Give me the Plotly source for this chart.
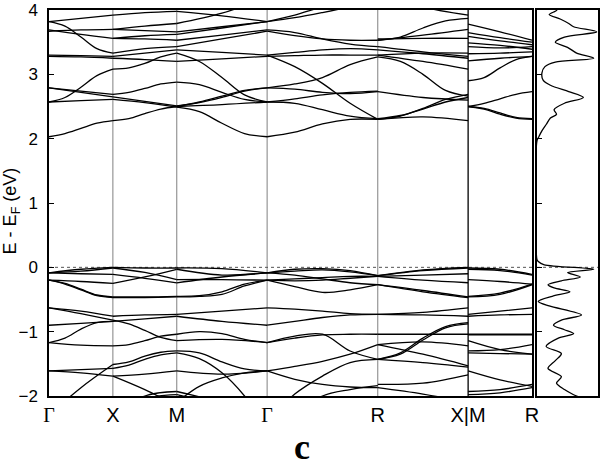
import plotly.graph_objects as go

# ---- k-path node positions (simple cubic: G-X-M-G-R-X | M-R) ----
k_G1 = 0.0
k_X1 = 1.0
k_M1 = 2.0
k_G2 = 2.0 + 2 ** 0.5
k_R1 = k_G2 + 3 ** 0.5
k_X2 = k_R1 + 2 ** 0.5
k_R2 = k_X2 + 1.0

tick_labels = ["<span style='font-family:Liberation Serif'>Γ</span>", "X", "M",
               "<span style='font-family:Liberation Serif'>Γ</span>", "R", "X|M", "R"]


def seg_k(a, b, n):
    return [a + (b - a) * i / (n - 1) for i in range(n)]


# segments: (start, end)
seg_GX = (k_G1, k_X1)
seg_XM = (k_X1, k_M1)
seg_MG = (k_M1, k_G2)
seg_GR = (k_G2, k_R1)
seg_RX = (k_R1, k_X2)
seg_MR = (k_X2, k_R2)

cb_GX = [[2.03, 2.08, 2.16, 2.24, 2.28], [2.57, 2.64, 2.80, 2.98, 3.08], [2.57, 2.59, 2.61],
         [2.79, 2.72, 2.65], [2.79, 2.74, 2.69], [3.28, 3.27, 3.25], [3.30, 3.29, 3.28],
         [3.82, 3.75, 3.58, 3.40, 3.33], [3.67, 3.69, 3.70], [3.69, 3.62, 3.56],
         [3.82, 3.87, 3.92]]
vb_GX = [[-0.085, -0.03, 0.00], [-0.085, -0.06, -0.01], [-0.085, -0.10, -0.11],
         [-0.20, -0.22, -0.25], [-0.20, -0.25, -0.34, -0.43, -0.46],
         [-0.20, -0.26, -0.35, -0.44, -0.47], [-0.63, -0.68, -0.76], [-0.63, -0.72, -0.82],
         [-0.90, -0.87, -0.84], [-1.17, -1.10, -0.96, -0.86, -0.84], [-1.17, -1.21, -1.22],
         [-1.61, -1.59, -1.57], [-1.61, -1.64, -1.69], [-2.30, -1.87, -1.51]]

cb_XM = [[2.28, 2.31, 2.39, 2.46, 2.50], [2.61, 2.56, 2.49], [2.65, 2.58, 2.51],
         [2.69, 2.72, 2.78, 2.85, 2.88], [3.08, 3.10, 3.17, 3.27, 3.33], [3.25, 3.23, 3.20],
         [3.28, 3.33, 3.38], [3.33, 3.40, 3.43], [3.56, 3.55, 3.53], [3.56, 3.60, 3.62],
         [3.70, 3.68, 3.66], [3.70, 3.75, 3.79], [3.92, 3.96, 3.98]]
vb_XM = [[0.00, -0.01, -0.01], [-0.01, -0.08, -0.19], [-0.11, -0.17, -0.24],
         [-0.25, -0.15, -0.03], [-0.46, -0.46, -0.45], [-0.47, -0.47, -0.46],
         [-0.76, -0.74, -0.73], [-0.84, -0.80, -0.76], [-0.82, -0.88, -0.98, -1.09, -1.14],
         [-1.22, -1.20, -1.14, -1.07, -1.04], [-1.51, -1.47, -1.38, -1.32, -1.30],
         [-1.57, -1.52, -1.43, -1.36, -1.33], [-1.69, -1.90, -2.15], [-1.69, -1.66, -1.61],
         [-2.30, -2.00, -1.93], [-2.40, -2.05, -1.98]]

cb_MG = [[2.49, 2.42, 2.24, 2.08, 2.03], [2.50, 2.53, 2.57], [2.51, 2.56, 2.64, 2.74, 2.79],
         [2.50, 2.57, 2.66, 2.75, 2.79], [2.88, 2.84, 2.72, 2.61, 2.57],
         [3.33, 3.20, 2.95, 2.68, 2.57], [3.20, 3.24, 3.28], [3.38, 3.34, 3.30],
         [3.43, 3.55, 3.67], [3.53, 3.61, 3.69], [3.62, 3.72, 3.82], [3.66, 3.74, 3.82],
         [3.79, 3.95, 4.20], [3.98, 3.91, 3.82]]
vb_MG = [[-0.01, -0.02, -0.085], [-0.03, -0.12, -0.085], [-0.19, -0.19, -0.20],
         [-0.24, -0.15, -0.085], [-0.45, -0.44, -0.38, -0.26, -0.20],
         [-0.46, -0.45, -0.42, -0.29, -0.20], [-0.73, -0.68, -0.63], [-0.76, -0.84, -0.90],
         [-1.04, -1.00, -1.03, -1.12, -1.17], [-1.14, -1.12, -1.17],
         [-1.30, -1.33, -1.47, -1.58, -1.61], [-1.33, -1.42, -1.64, -2.00, -2.50],
         [-1.61, -1.66, -1.61], [-2.10, -1.85, -1.72, -1.64, -1.61], [-1.93, -2.10, -2.30],
         [-1.98, -2.15, -2.40]]

cb_GR = [[2.03, 2.10, 2.23, 2.30, 2.30], [2.57, 2.55, 2.45, 2.35, 2.31],
         [2.57, 2.62, 2.68, 2.72, 2.74], [2.79, 2.77, 2.72, 2.70, 2.73],
         [2.79, 2.85, 2.95, 3.15, 3.27], [3.30, 3.12, 2.86, 2.55, 2.30],
         [3.28, 3.29, 3.30, 3.30, 3.30], [3.30, 3.34, 3.38, 3.40, 3.38],
         [3.67, 3.60, 3.55, 3.53, 3.53], [3.69, 3.65, 3.55, 3.47, 3.43],
         [3.82, 3.88, 3.96, 4.05, 4.15], [3.82, 3.92, 4.05, 4.15, 4.25]]
vb_GR = [[-0.085, -0.03, -0.02, -0.05, -0.13], [-0.085, -0.06, -0.04, -0.07, -0.13],
         [-0.085, -0.12, -0.18, -0.24, -0.27], [-0.20, -0.30, -0.39, -0.35, -0.27],
         [-0.20, -0.18, -0.16, -0.14, -0.14], [-0.20, -0.21, -0.20, -0.17, -0.14],
         [-0.63, -0.65, -0.68, -0.72, -0.73], [-0.90, -0.84, -0.78, -0.74, -0.73],
         [-1.17, -1.10, -1.05, -1.04, -1.04], [-1.17, -1.07, -1.04, -1.30, -1.43],
         [-1.61, -1.54, -1.46, -1.35, -1.20], [-1.61, -1.74, -1.82, -1.86, -1.87],
         [-2.40, -1.97, -1.69, -1.48, -1.43], [-2.60, -2.30, -2.00, -1.90, -1.84]]

cb_RX = [[2.30, 2.34, 2.28], [2.30, 2.35, 2.47, 2.61, 2.69], [2.31, 2.36, 2.46, 2.57, 2.64],
         [2.73, 2.64, 2.60], [3.27, 3.20, 3.00, 2.75, 2.66], [3.30, 3.20, 3.08],
         [3.38, 3.32, 3.25], [3.43, 3.35, 3.28], [3.30, 3.33, 3.33], [3.53, 3.61, 3.70],
         [3.53, 3.58, 3.72, 3.83, 3.87], [3.55, 3.56, 3.56], [4.30, 4.05, 3.92]]
vb_RX = [[-0.13, -0.04, 0.00], [-0.13, -0.05, -0.01], [-0.14, -0.12, -0.10],
         [-0.14, -0.20, -0.24], [-0.27, -0.36, -0.46], [-0.27, -0.38, -0.47],
         [-0.73, -0.70, -0.63], [-0.73, -0.74, -0.76], [-1.04, -1.04, -1.04],
         [-1.43, -1.33, -1.10, -0.92, -0.86], [-1.43, -1.35, -1.13, -0.94, -0.88],
         [-1.20, -1.16, -1.22], [-1.20, -1.35, -1.53], [-1.43, -1.48, -1.55],
         [-1.82, -1.80, -1.67], [-1.87, -1.97, -2.10]]

cb_MR = [[2.50, 2.46, 2.38, 2.32, 2.30], [2.50, 2.47, 2.40, 2.33, 2.31],
         [2.50, 2.55, 2.62, 2.69, 2.73], [2.90, 2.95, 3.10, 3.23, 3.28], [3.21, 3.25, 3.28],
         [3.32, 3.33, 3.35], [3.43, 3.41, 3.43], [3.49, 3.45, 3.39], [3.59, 3.52, 3.46],
         [3.65, 3.57, 3.50], [3.78, 3.66, 3.53]]
vb_MR = [[-0.01, -0.03, -0.11], [-0.03, -0.05, -0.12], [-0.19, -0.22, -0.26],
         [-0.45, -0.40, -0.26], [-0.46, -0.42, -0.27], [-0.73, -0.68, -0.63],
         [-0.76, -0.74, -0.73], [-1.04, -1.04, -1.04], [-1.05, -1.05, -1.05],
         [-1.14, -1.28, -1.35], [-1.30, -1.28, -1.20], [-1.33, -1.34, -1.35],
         [-1.61, -1.75, -1.85], [-1.93, -1.90, -1.82], [-1.98, -1.95, -1.87]]

# ---- density of states (arbitrary units) ----
dos_E = [4.00, 3.98, 3.93, 3.86, 3.79, 3.74, 3.66, 3.58, 3.50, 3.42, 3.33, 3.25, 3.19,
         3.12, 3.02, 2.91, 2.83, 2.73, 2.64, 2.55, 2.45, 2.38, 2.32, 2.22, 2.12, 2.03,
         1.97, 0.12, 0.09, 0.04, -0.03, -0.08, -0.15, -0.21, -0.27, -0.32, -0.38, -0.45,
         -0.53, -0.60, -0.74, -0.82, -0.90, -0.97, -1.03, -1.10, -1.23, -1.34, -1.45,
         -1.57, -1.70, -1.80, -1.90, -1.98, -2.02]
dos_val = [0.33, 0.30, 0.20, 0.38, 0.52, 0.60, 0.98, 0.45, 0.30, 0.50, 0.65, 0.93, 0.30,
           0.13, 0.08, 0.10, 0.22, 0.52, 0.76, 0.45, 0.28, 0.32, 0.22, 0.15, 0.08, 0.03,
           0.00, 0.00, 0.02, 0.12, 0.93, 0.50, 0.71, 0.40, 0.18, 0.28, 0.54, 0.25,
           0.02, 0.20, 0.73, 0.40, 0.27, 0.45, 0.60, 0.35, 0.15, 0.40, 0.30,
           0.18, 0.40, 0.32, 0.45, 0.60, 0.70]

fig = go.Figure()

BAND_LINE = dict(color="black", width=1.3, shape="spline", smoothing=1.0)


def add_lines(seg, lines):
    xs, ys = [], []
    for e in lines:
        xs += seg_k(seg[0], seg[1], len(e)) + [None]
        ys += list(e) + [None]
    fig.add_trace(go.Scatter(x=xs, y=ys, mode="lines", line=BAND_LINE,
                             connectgaps=False, hoverinfo="skip", showlegend=False,
                             xaxis="x", yaxis="y"))


for seg, cb, vb in [(seg_GX, cb_GX, vb_GX), (seg_XM, cb_XM, vb_XM), (seg_MG, cb_MG, vb_MG),
                    (seg_GR, cb_GR, vb_GR), (seg_RX, cb_RX, vb_RX), (seg_MR, cb_MR, vb_MR)]:
    add_lines(seg, cb)
    add_lines(seg, vb)

fig.add_trace(go.Scatter(x=dos_val, y=dos_E, mode="lines",
                         line=dict(color="black", width=1.3, shape="spline", smoothing=0.8),
                         hoverinfo="skip", showlegend=False, xaxis="x2", yaxis="y2"))

shapes = []
for k in [k_X1, k_M1, k_G2, k_R1]:
    shapes.append(dict(type="line", xref="x", yref="y", x0=k, x1=k, y0=-2, y1=4,
                       line=dict(color="#808080", width=1), layer="below"))
shapes.append(dict(type="line", xref="x", yref="y", x0=k_X2, x1=k_X2, y0=-2, y1=4,
                   line=dict(color="black", width=1.3)))
shapes.append(dict(type="line", xref="x", yref="y", x0=k_G1, x1=k_R2, y0=0, y1=0,
                   line=dict(color="#555555", width=1, dash="dot"), layer="below"))
shapes.append(dict(type="line", xref="x2", yref="y2", x0=0, x1=1, y0=0, y1=0,
                   line=dict(color="#555555", width=1, dash="dot"), layer="below"))

axis_common = dict(showline=True, linecolor="black", linewidth=1.5, mirror=True,
                   showgrid=False, zeroline=False, automargin=False)

fig.update_layout(
    width=605, height=469,
    margin=dict(l=49, r=7, t=10, b=73, autoexpand=False),
    paper_bgcolor="white", plot_bgcolor="white",
    font=dict(family="Liberation Sans, Arial, sans-serif", color="black"),
    xaxis=dict(domain=[0, 0.8798], range=[k_G1, k_R2],
               tickvals=[k_G1, k_X1, k_M1, k_G2, k_R1, k_X2, k_R2],
               ticktext=tick_labels, ticks="", tickfont=dict(size=20), **axis_common),
    yaxis=dict(range=[-2, 4], tickvals=[-2, -1, 0, 1, 2, 3, 4], ticks="inside", ticklen=5,
               tickcolor="black", tickfont=dict(size=17), ticklabelstandoff=6, **axis_common),
    xaxis2=dict(domain=[0.8889, 1], range=[0, 1.0], anchor="y2", showticklabels=False,
                ticks="", **axis_common),
    yaxis2=dict(range=[-2, 4], anchor="x2", tickvals=[-2, -1, 0, 1, 2, 3, 4], ticks="inside",
                ticklen=5, tickcolor="black", showticklabels=False, **axis_common),
    shapes=shapes,
    annotations=[
        dict(text="E - E<sub>F</sub> (eV)", textangle=-90, xref="paper", yref="paper",
             x=-0.068, y=0.48, showarrow=False, font=dict(size=18), xanchor="center",
             yanchor="middle"),
        dict(text="<b>c</b>", xref="paper", yref="paper", x=0.461, y=-0.132, showarrow=False,
             font=dict(size=36, family="Liberation Serif, Times New Roman, serif"),
             xanchor="center", yanchor="middle"),
    ],
)

# remove the browser's default page margin so the figure sits at the window's corner
fig.write_html("out.html", config={"displayModeBar": False},
               post_script="document.body.style.margin='0px';")
